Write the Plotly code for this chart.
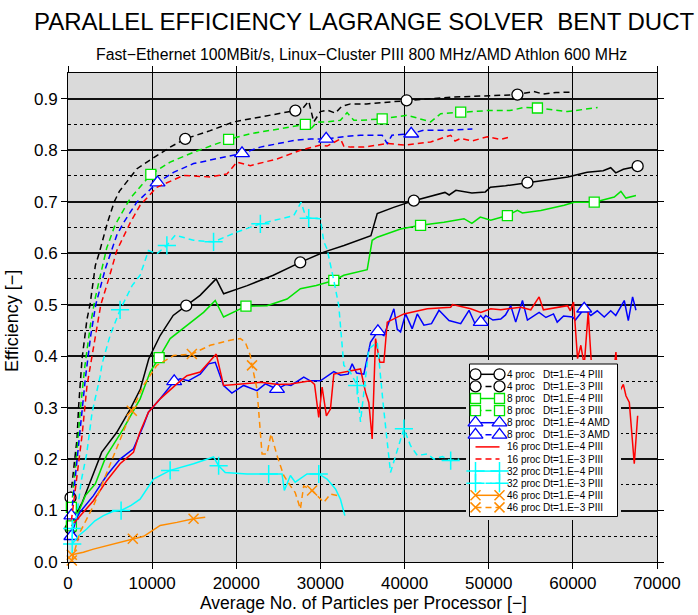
import plotly.graph_objects as go

FONT = "Liberation Sans, Arial, Helvetica, sans-serif"

# ---------------- data ----------------
# 4 proc Dt=1.E-4 PIII
p4_e4_x = [300, 1000, 1700, 2600, 4000, 5800, 7400, 8600, 9600, 10950, 12500, 14050, 15700, 17600,
           18500, 21300, 24400, 27600, 30400, 32800, 35400, 36000, 36750, 38700, 41100, 43500, 44800,
           45300, 46100, 48000, 49600, 50200, 52000, 54600, 57000, 59400, 61700, 63600, 64500, 65100,
           66000, 67700]
p4_e4_y = [0.065, 0.095, 0.116, 0.155, 0.213, 0.252, 0.297, 0.336, 0.395, 0.440, 0.479, 0.498, 0.518,
           0.550, 0.521, 0.537, 0.557, 0.582, 0.602, 0.615, 0.631, 0.634, 0.677, 0.689, 0.702, 0.712,
           0.718, 0.713, 0.722, 0.717, 0.719, 0.728, 0.731, 0.737, 0.742, 0.748, 0.757, 0.760, 0.766,
           0.756, 0.763, 0.769]
p4_e4_mx = [300, 14050, 27600, 41100, 54600, 67700]
p4_e4_my = [0.065, 0.498, 0.582, 0.702, 0.737, 0.769]

# 4 proc Dt=1.E-3 PIII
p4_e3_x = [300, 700, 1070, 1270, 1670, 2260, 2620, 3250, 3700, 4700, 5500, 6100, 8200, 9960, 12140,
           13930, 16900, 19680, 22860, 25000, 27020, 27820, 28610, 29210, 30000, 30800, 31790, 32500,
           33570, 35500, 37540, 40240, 43000, 45480, 50000, 53410, 55360, 56500, 58000, 60000]
p4_e3_y = [0.125, 0.18, 0.239, 0.304, 0.395, 0.472, 0.50, 0.576, 0.60, 0.66, 0.70, 0.72, 0.764, 0.783,
           0.806, 0.822, 0.838, 0.855, 0.864, 0.870, 0.877, 0.880, 0.895, 0.855, 0.875, 0.878, 0.872,
           0.885, 0.890, 0.890, 0.893, 0.897, 0.900, 0.903, 0.906, 0.908, 0.914, 0.909, 0.912, 0.913]
p4_e3_mx = [300, 13930, 27020, 40240, 53410]
p4_e3_my = [0.125, 0.822, 0.877, 0.897, 0.908]

# 8 proc Dt=1.E-4 PIII
p8_e4_x = [400, 1070, 2060, 3250, 4250, 4600, 6590, 8570, 9760, 10830, 12140, 14130, 16110, 17500,
           18490, 21150, 23650, 26030, 27620, 29500, 31590, 32780, 35560, 36150, 36750, 39520, 41900,
           44680, 47060, 48000, 49000, 50240, 52220, 53410, 54000, 56190, 58970, 60160, 62540, 64920,
           65710, 66300, 67500]
p8_e4_y = [0.070, 0.090, 0.129, 0.152, 0.194, 0.207, 0.259, 0.317, 0.369, 0.397, 0.434, 0.459, 0.485,
           0.508, 0.476, 0.497, 0.498, 0.511, 0.531, 0.537, 0.547, 0.557, 0.568, 0.625, 0.631, 0.647,
           0.654, 0.660, 0.667, 0.658, 0.670, 0.664, 0.673, 0.683, 0.678, 0.683, 0.693, 0.699, 0.699,
           0.709, 0.720, 0.707, 0.712]
p8_e4_mx = [400, 10830, 21150, 31590, 41900, 52220, 62540]
p8_e4_my = [0.070, 0.397, 0.497, 0.547, 0.654, 0.673, 0.699]

# 8 proc Dt=1.E-3 PIII
p8_e3_x = [400, 1000, 1470, 2000, 2660, 3200, 3850, 4600, 5600, 7380, 9840, 12140, 14920, 19090, 21670,
           25240, 28210, 28900, 29600, 30790, 32380, 33170, 33970, 34760, 37340, 40320, 43100, 44290,
           46670, 49840, 52500, 54210, 55790, 59370, 62940]
p8_e3_y = [0.106, 0.20, 0.297, 0.38, 0.46, 0.51, 0.557, 0.61, 0.655, 0.706, 0.753, 0.777, 0.796, 0.821,
           0.832, 0.842, 0.850, 0.842, 0.855, 0.855, 0.858, 0.873, 0.858, 0.858, 0.861, 0.868, 0.855,
           0.871, 0.874, 0.877, 0.877, 0.883, 0.882, 0.875, 0.883]
p8_e3_mx = [400, 9840, 19090, 28210, 37340, 46670, 55790]
p8_e3_my = [0.106, 0.753, 0.821, 0.850, 0.861, 0.874, 0.882]

# 8 proc Dt=1.E-4 AMD
amd_e4_x = [400, 1000, 1430, 3020, 4600, 6190, 7780, 8970, 9560, 10950,
            12620, 13330, 14300, 15710, 16710, 17500, 18490, 19480, 20870, 22460,
            23450, 24840, 25900, 26500, 28020, 28800, 30000, 31590, 32400, 33300,
            33770, 34300, 35160, 35950, 36830, 37540, 38140, 38730, 39130, 39520,
            40120, 40910, 41510, 42300, 43200, 44090, 45280, 46670, 47660, 48450,
            49050, 49640, 50500, 51430, 52000, 52620, 53210, 54010, 54600, 55990,
            56800, 57700, 58140, 58900, 59960, 60300, 61350, 62140, 62900, 63730,
            64500, 65100, 66110, 66590, 67100, 67500]
amd_e4_y = [0.050, 0.085, 0.097, 0.129, 0.168, 0.200, 0.220, 0.265, 0.291, 0.317,
            0.351, 0.356, 0.352, 0.365, 0.385, 0.388, 0.343, 0.328, 0.343, 0.333,
            0.346, 0.336, 0.345, 0.343, 0.359, 0.352, 0.352, 0.370, 0.363, 0.365,
            0.385, 0.367, 0.365, 0.427, 0.448, 0.440, 0.466, 0.492, 0.452, 0.447,
            0.482, 0.453, 0.482, 0.460, 0.463, 0.489, 0.469, 0.463, 0.489, 0.460,
            0.466, 0.479, 0.470, 0.472, 0.480, 0.498, 0.466, 0.508, 0.470, 0.485,
            0.475, 0.482, 0.466, 0.478, 0.476, 0.470, 0.492, 0.479, 0.488, 0.476,
            0.488, 0.479, 0.508, 0.469, 0.515, 0.489]
amd_e4_mx = [400, 12620, 24840, 36830, 49050, 61350]
amd_e4_my = [0.050, 0.351, 0.336, 0.448, 0.466, 0.492]

# 8 proc Dt=1.E-3 AMD
amd_e3_x = [400, 1000, 1470, 2060, 2700, 3300, 4440, 5800, 6630, 8180, 10640, 12540, 14920, 17700,
            20680, 22860, 26830, 28810, 30680, 33180, 34760, 37340, 37940, 38500, 40790, 42300, 45080,
            48060]
amd_e3_y = [0.090, 0.19, 0.265, 0.356, 0.44, 0.50, 0.57, 0.635, 0.66, 0.699, 0.737, 0.757, 0.774, 0.783,
            0.794, 0.806, 0.819, 0.822, 0.822, 0.827, 0.829, 0.829, 0.813, 0.829, 0.832, 0.839, 0.839,
            0.841]
amd_e3_mx = [400, 10640, 20680, 30680, 40790]
amd_e3_my = [0.090, 0.737, 0.794, 0.822, 0.832]

# 16 proc Dt=1.E-4 PIII
p16_e4_x = [400, 1430, 3020, 4600, 6190, 7780, 8500, 9560, 10950, 12940,
            14130, 15710, 17620, 18490, 20480, 22860, 25000, 26430, 28810, 29300,
            29800, 30200, 30710, 31190, 31590, 33570, 34760, 35360, 35750, 36150,
            36550, 37060, 37540, 37940, 39920, 42700, 45480, 45700, 47860, 49050,
            50240, 51430, 53810, 55000, 55990, 56500, 59370, 59700, 60080, 60560,
            60950, 61350, 61820, 62300, 62800, 63300, 63800, 64300, 64800, 65120,
            65350, 65710, 66000, 66310, 66710, 67300, 67700]
p16_e4_y = [0.070, 0.090, 0.119, 0.158, 0.191, 0.213, 0.250, 0.291, 0.317, 0.346,
            0.362, 0.369, 0.404, 0.343, 0.346, 0.349, 0.345, 0.346, 0.352, 0.345,
            0.281, 0.340, 0.284, 0.297, 0.365, 0.372, 0.375, 0.330, 0.310, 0.239,
            0.434, 0.388, 0.388, 0.466, 0.482, 0.492, 0.495, 0.500, 0.492, 0.485,
            0.492, 0.490, 0.495, 0.490, 0.515, 0.490, 0.498, 0.488, 0.505, 0.395,
            0.421, 0.382, 0.485, 0.360, 0.330, 0.350, 0.300, 0.340, 0.360, 0.408,
            0.345, 0.336, 0.345, 0.323, 0.310, 0.191, 0.284]
p16_e4_mx = []
p16_e4_my = []

# 16 proc Dt=1.E-3 PIII
p16_e3_x = [400, 1000, 1670, 2260, 3250, 3900, 4840, 5800, 7420, 8570, 10560, 13730, 16900, 18890,
            20080, 21670, 24840, 27620, 30000, 30790, 32380, 32780, 33570, 35160, 37940, 40000, 43100,
            45480, 46000, 46670, 48000, 49840, 51430, 52620]
p16_e3_y = [0.080, 0.16, 0.246, 0.343, 0.44, 0.50, 0.55, 0.605, 0.66, 0.693, 0.728, 0.751, 0.748, 0.754,
            0.777, 0.770, 0.783, 0.800, 0.810, 0.808, 0.822, 0.808, 0.806, 0.806, 0.813, 0.810, 0.816,
            0.829, 0.818, 0.823, 0.818, 0.826, 0.821, 0.826]
p16_e3_mx = []
p16_e3_my = []

# 32 proc Dt=1.E-4 PIII
p32_e4_x = [500, 1200, 2220, 3200, 4210, 5300, 6310, 7500, 8570, 10160, 12140, 14920, 17300, 17900,
            18690, 21270, 23850, 25440, 25710, 26430, 27000, 28410, 29800, 30790, 31790, 32380, 32900]
p32_e4_y = [0.035, 0.050, 0.064, 0.080, 0.090, 0.098, 0.100, 0.110, 0.122, 0.161, 0.178, 0.191, 0.204,
            0.187, 0.174, 0.171, 0.171, 0.171, 0.139, 0.168, 0.155, 0.171, 0.171, 0.161, 0.142, 0.122,
            0.090]
p32_e4_mx = [500, 6310, 12140, 17900, 23850, 29800]
p32_e4_my = [0.035, 0.100, 0.178, 0.187, 0.171, 0.171]

# 32 proc Dt=1.E-3 PIII
p32_e3_x = [500, 1030, 1600, 2220, 2860, 3810, 4050, 5000, 6190, 7620, 8570, 9560, 10560, 11750, 12740,
            14920, 17300, 20080, 22860, 26830, 27700, 28210, 28610, 30000, 30400, 30790, 31590, 32180,
            32780, 33500, 34370, 34760, 35750, 36750, 37500, 38330, 39920, 40710, 41510, 42700, 43490,
            44500, 45480, 46500]
p32_e3_y = [0.065, 0.09, 0.16, 0.21, 0.29, 0.36, 0.385, 0.44, 0.49, 0.537, 0.557, 0.605, 0.599, 0.615,
            0.635, 0.625, 0.622, 0.641, 0.657, 0.673, 0.699, 0.673, 0.668, 0.667, 0.622, 0.608, 0.547,
            0.498, 0.382, 0.37, 0.343, 0.272, 0.414, 0.427, 0.30, 0.174, 0.259, 0.226, 0.207, 0.210,
            0.200, 0.205, 0.197, 0.200]
p32_e3_mx = [500, 6190, 11750, 17300, 22860, 28610, 34370, 39920, 45480]
p32_e3_my = [0.065, 0.49, 0.615, 0.622, 0.657, 0.668, 0.343, 0.259, 0.197]

# 46 proc Dt=1.E-4 PIII
p46_e4_x = [450, 1000, 1830, 3020, 5400, 7700, 9000, 9760, 10950, 12940, 14920, 16310]
p46_e4_y = [0.014, 0.016, 0.019, 0.025, 0.035, 0.045, 0.050, 0.058, 0.071, 0.077, 0.084, 0.087]
p46_e4_mx = [450, 7700, 14920]
p46_e4_my = [0.014, 0.045, 0.084]

# 46 proc Dt=1.E-3 PIII
p46_e3_x = [450, 1430, 3020, 4600, 6190, 7580, 8970, 10560, 12540, 14720, 16900, 19290, 20480, 21070,
            21670, 21870, 22460, 23060, 23650, 24130, 24840, 25640, 26430, 27000, 27620, 28010, 29010,
            30400, 31190, 31980]
p46_e3_y = [0.003, 0.058, 0.109, 0.174, 0.239, 0.294, 0.343, 0.382, 0.401, 0.404, 0.421, 0.431, 0.434,
            0.427, 0.401, 0.382, 0.336, 0.210, 0.210, 0.249, 0.207, 0.168, 0.148, 0.135, 0.103, 0.148,
            0.139, 0.116, 0.132, 0.129]
p46_e3_mx = [450, 7580, 14720, 21870, 29010]
p46_e3_my = [0.003, 0.294, 0.404, 0.382, 0.139]

legend_procs = ["4 proc", "4 proc", "8 proc", "8 proc", "8 proc", "8 proc",
                "16 proc", "16 proc", "32 proc", "32 proc", "46 proc", "46 proc"]
legend_dts = ["Dt=1.E\u22124 PIII", "Dt=1.E\u22123 PIII", "Dt=1.E\u22124 PIII", "Dt=1.E\u22123 PIII",
              "Dt=1.E\u22124 AMD", "Dt=1.E\u22123 AMD", "Dt=1.E\u22124 PIII", "Dt=1.E\u22123 PIII",
              "Dt=1.E\u22124 PIII", "Dt=1.E\u22123 PIII", "Dt=1.E\u22124 PIII", "Dt=1.E\u22123 PIII"]

x_ticks = [0, 10000, 20000, 30000, 40000, 50000, 60000, 70000]
y_ticks = [0.0, 0.1, 0.2, 0.3, 0.4, 0.5, 0.6, 0.7, 0.8, 0.9]

# ---------------- styles ----------------
BLACK, GREEN, BLUE, RED, CYAN, ORANGE = "#000000", "#00e400", "#0000ff", "#ff0000", "#00ffff", "#ff8c00"
DASH = "6px,4px"

series = [
    (p4_e4_x, p4_e4_y, p4_e4_mx, p4_e4_my, BLACK, "solid", "circle", 11),
    (p4_e3_x, p4_e3_y, p4_e3_mx, p4_e3_my, BLACK, DASH, "circle", 11),
    (p8_e4_x, p8_e4_y, p8_e4_mx, p8_e4_my, GREEN, "solid", "square", 10),
    (p8_e3_x, p8_e3_y, p8_e3_mx, p8_e3_my, GREEN, DASH, "square", 10),
    (amd_e4_x, amd_e4_y, amd_e4_mx, amd_e4_my, BLUE, "solid", "triangle-up", 13),
    (amd_e3_x, amd_e3_y, amd_e3_mx, amd_e3_my, BLUE, DASH, "triangle-up", 13),
    (p16_e4_x, p16_e4_y, p16_e4_mx, p16_e4_my, RED, "solid", None, 0),
    (p16_e3_x, p16_e3_y, p16_e3_mx, p16_e3_my, RED, DASH, None, 0),
    (p32_e4_x, p32_e4_y, p32_e4_mx, p32_e4_my, CYAN, "solid", "cross-thin-open", 13),
    (p32_e3_x, p32_e3_y, p32_e3_mx, p32_e3_my, CYAN, DASH, "cross-thin-open", 13),
    (p46_e4_x, p46_e4_y, p46_e4_mx, p46_e4_my, ORANGE, "solid", "x-thin-open", 10),
    (p46_e3_x, p46_e3_y, p46_e3_mx, p46_e3_my, ORANGE, DASH, "x-thin-open", 10),
]


def marker_style(color, symbol, size):
    if symbol.endswith("-open"):
        return dict(symbol=symbol, size=size, color=color, line=dict(color=color, width=1.5))
    return dict(symbol=symbol, size=size, color="white", line=dict(color=color, width=1.3))


fig = go.Figure()

for xs, ys, mxs, mys, color, dash, symbol, msize in series:
    fig.add_trace(go.Scatter(x=xs, y=ys, mode="lines", line=dict(color=color, width=1.5, dash=dash),
                             showlegend=False, hoverinfo="skip"))
    if symbol and mxs:
        fig.add_trace(go.Scatter(x=mxs, y=mys, mode="markers", marker=marker_style(color, symbol, msize),
                                 cliponaxis=False, showlegend=False, hoverinfo="skip"))

# ---------------- hand-made legend box (pixel-like coordinates on x2/y2) ----------------
L_LEFT, L_RIGHT, L_TOP, L_BOT = 469.5, 617.5, 364.0, 516.5
fig.add_trace(go.Scatter(x=[L_LEFT, L_RIGHT, L_RIGHT, L_LEFT, L_LEFT],
                         y=[L_TOP, L_TOP, L_BOT, L_BOT, L_TOP],
                         mode="lines", fill="toself", fillcolor="white",
                         line=dict(color="black", width=1), xaxis="x2", yaxis="y2",
                         showlegend=False, hoverinfo="skip"))
ROW0, ROWSTEP = 374.3, 12.1
S_X0, S_X1 = 475.5, 499.5
annotations = []
for i, (xs, ys, mxs, mys, color, dash, symbol, msize) in enumerate(series):
    ry = ROW0 + ROWSTEP * i
    fig.add_trace(go.Scatter(x=[S_X0, S_X1], y=[ry, ry], mode="lines",
                             line=dict(color=color, width=1.5, dash=dash),
                             xaxis="x2", yaxis="y2", showlegend=False, hoverinfo="skip"))
    if symbol:
        fig.add_trace(go.Scatter(x=[S_X0, S_X1], y=[ry, ry], mode="markers",
                                 marker=marker_style(color, symbol, msize), cliponaxis=False,
                                 xaxis="x2", yaxis="y2", showlegend=False, hoverinfo="skip"))
    annotations.append(dict(x=504.5, y=ry, xref="x2", yref="y2", text=legend_procs[i], showarrow=False,
                            xanchor="left", yanchor="middle", font=dict(family=FONT, size=10, color="black")))
    annotations.append(dict(x=540.8, y=ry, xref="x2", yref="y2", text=legend_dts[i], showarrow=False,
                            xanchor="left", yanchor="middle", font=dict(family=FONT, size=10, color="black")))

# ---------------- titles ----------------
annotations += [
    dict(text="PARALLEL EFFICIENCY LAGRANGE SOLVER  BENT DUCT", x=0.503, y=1.105, xref="paper", yref="paper",
         showarrow=False, xanchor="center", yanchor="middle", font=dict(family=FONT, size=24, color="black")),
    dict(text="Fast\u2212Ethernet 100MBit/s, Linux\u2212Cluster PIII 800 MHz/AMD Athlon 600 MHz", x=0.4985, y=1.038,
         xref="paper", yref="paper", showarrow=False, xanchor="center", yanchor="middle",
         font=dict(family=FONT, size=15.8, color="black")),
    dict(text="Average No. of Particles per Processor [\u2212]", x=0.502, y=-0.083, xref="paper", yref="paper",
         showarrow=False, xanchor="center", yanchor="middle", font=dict(family=FONT, size=17.5, color="black")),
    dict(text="Efficiency [\u2212]", x=-0.094, y=0.492, xref="paper", yref="paper", textangle=-90,
         showarrow=False, xanchor="center", yanchor="middle", font=dict(family=FONT, size=18, color="black")),
]

PL, PR, PT, PB = 68, 41, 73, 53
W, H = 698, 615
pw, ph = W - PL - PR, H - PT - PB


def dom_x(a, b):
    return [(a - PL) / pw, (b - PL) / pw]


def dom_y(top, bot):
    return [(H - PB - bot) / ph, (H - PB - top) / ph]


fig.update_layout(
    width=W, height=H,
    margin=dict(l=PL, r=PR, t=PT, b=PB, pad=0),
    paper_bgcolor="white", plot_bgcolor="#dadada",
    font=dict(family=FONT, size=17, color="black"),
    showlegend=False,
    annotations=annotations,
    xaxis=dict(range=[0, 70000], tickvals=x_ticks, tickformat="d", ticks="outside", ticklen=6,
               tickcolor="black", tickwidth=1, showline=True, linecolor="black", linewidth=1,
               mirror="ticks", showgrid=True, gridcolor="black", gridwidth=1, zeroline=False,
               tickfont=dict(family=FONT, size=17, color="black")),
    yaxis=dict(range=[0, 0.95], tickvals=y_ticks, tickformat=".1f", ticks="outside", ticklen=6,
               tickcolor="black", tickwidth=1, showline=True, linecolor="black", linewidth=1,
               mirror="ticks", showgrid=True, gridcolor="#111111", gridwidth=1.5, zeroline=False,
               minor=dict(dtick=0.05, tick0=0, showgrid=True, gridcolor="black", griddash="dot",
                          gridwidth=1, ticks=""),
               tickfont=dict(family=FONT, size=17, color="black")),
    xaxis2=dict(domain=dom_x(466, 621), range=[466, 621], anchor="y2", visible=False, fixedrange=True),
    yaxis2=dict(domain=dom_y(360, 520), range=[520, 360], anchor="x2", visible=False, fixedrange=True),
)

fig.write_html("out.html")
